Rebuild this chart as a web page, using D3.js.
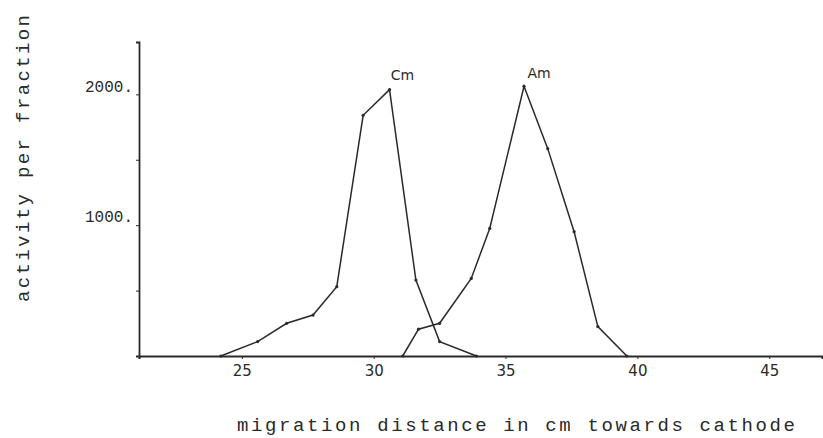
<!DOCTYPE html>
<html>
<head>
<meta charset="utf-8">
<script src="https://cdn.jsdelivr.net/npm/d3@7"></script>
<style>
  body { margin: 0; background: #fff; }
  text { fill: #2a2a2a; }
</style>
</head>
<body>
<svg id="chart" width="823" height="438"></svg>
<script>
// migration distance (cm) and activity per fraction
const cmX = [24.2, 25.6, 26.7, 27.7, 28.6, 29.6, 30.6, 31.6, 32.5, 33.9];
const cmY = [0, 110, 250, 313, 530, 1840, 2036, 580, 110, 0];
const amX = [31.1, 31.7, 32.5, 33.7, 34.4, 35.7, 36.6, 37.6, 38.5, 39.6];
const amY = [0, 205, 250, 593, 975, 2061, 1585, 950, 225, 0];
const xTicks = [25, 30, 35, 40, 45];
const yTicks = [500, 1000, 1500, 2000];
const yLabels = [1000, 2000];

const svg = d3.select("#chart");

const x = d3.scaleLinear().domain([21.1, 47]).range([139, 822]);
const y = d3.scaleLinear().domain([0, 2400]).range([356, 42]);

const ink = "#2a2a2a";
const mono = "'Liberation Mono', 'DejaVu Sans Mono', monospace";

// x axis
const xAxis = svg.append("g")
  .attr("transform", `translate(0, ${y(0)})`)
  .call(d3.axisBottom(x).tickValues(xTicks).tickSize(3).tickPadding(6).tickFormat(d => d));
xAxis.select(".domain").attr("stroke", ink).attr("stroke-width", 2);
xAxis.selectAll(".tick line").attr("stroke", ink);
xAxis.selectAll(".tick text")
  .attr("font-family", "'DejaVu Sans', sans-serif")
  .attr("font-size", 15)
  .attr("fill", ink);

// y axis
const yAxis = svg.append("g")
  .attr("transform", `translate(${x(21.1)}, 0)`)
  .call(d3.axisLeft(y).tickValues(yTicks).tickSize(3).tickPadding(3)
    .tickFormat(d => yLabels.includes(d) ? d + "." : ""));
yAxis.select(".domain").attr("stroke", ink).attr("stroke-width", 1.8);
yAxis.selectAll(".tick line").attr("stroke", ink);
yAxis.selectAll(".tick text")
  .attr("font-family", mono)
  .attr("font-size", 16)
  .attr("dy", "-0.2em")
  .attr("fill", ink);

// curves
const line = d3.line().x(d => x(d[0])).y(d => y(d[1]));
const series = [
  { name: "Cm", pts: d3.zip(cmX, cmY), dx: 13, dy: -10 },
  { name: "Am", pts: d3.zip(amX, amY), dx: 15, dy: -8 }
];

series.forEach(s => {
  svg.append("path")
    .datum(s.pts)
    .attr("d", line)
    .attr("fill", "none")
    .attr("stroke", ink)
    .attr("stroke-width", 1.5);

  svg.append("g").selectAll("circle")
    .data(s.pts)
    .join("circle")
    .attr("cx", d => x(d[0]))
    .attr("cy", d => y(d[1]))
    .attr("r", 1.6)
    .attr("fill", ink);

  const peak = s.pts.reduce((a, b) => (b[1] > a[1] ? b : a));
  svg.append("text")
    .attr("x", x(peak[0]) + s.dx)
    .attr("y", y(peak[1]) + s.dy)
    .attr("text-anchor", "middle")
    .attr("font-family", "'DejaVu Sans', sans-serif")
    .attr("font-size", 14)
    .text(s.name);
});

// axis titles
svg.append("text")
  .attr("x", 237)
  .attr("y", 431)
  .attr("font-family", mono)
  .attr("font-size", 19)
  .attr("textLength", 558)
  .attr("lengthAdjust", "spacing")
  .text("migration distance in cm towards cathode");

svg.append("text")
  .attr("transform", "translate(29, 302) rotate(-90)")
  .attr("font-family", mono)
  .attr("font-size", 19)
  .attr("textLength", 287)
  .attr("lengthAdjust", "spacing")
  .text("activity per fraction");
</script>
</body>
</html>
